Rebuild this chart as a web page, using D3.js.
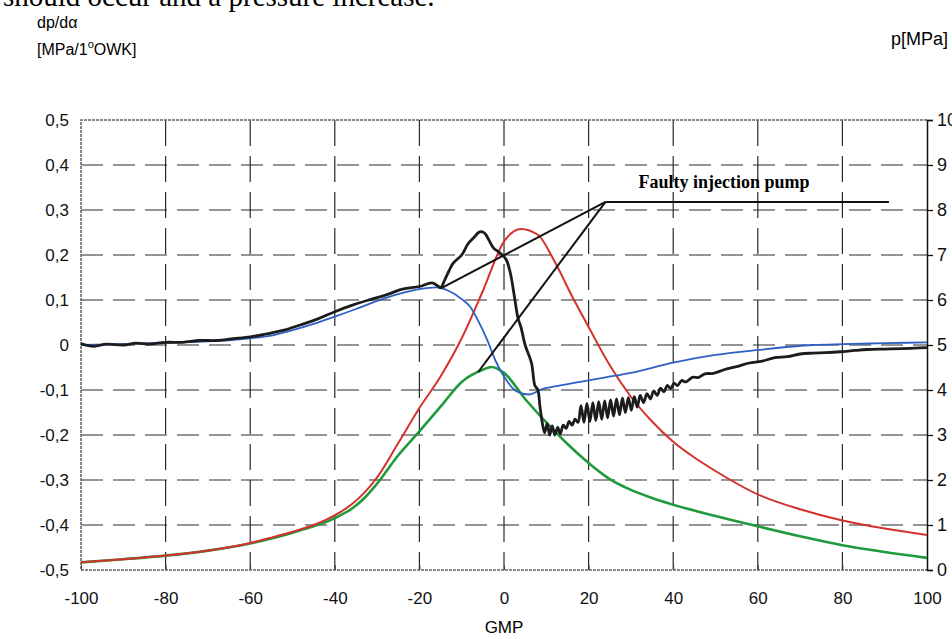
<!DOCTYPE html>
<html>
<head>
<meta charset="utf-8">
<script src="https://cdn.jsdelivr.net/npm/d3@7"></script>
<style>
  body { margin: 0; background: #fff; }
  svg { display: block; }
</style>
</head>
<body>
<svg id="chart"></svg>
<script>
// crank angle ticks and axis tick labels
const xTicks = [-100, -80, -60, -40, -20, 0, 20, 40, 60, 80, 100];
const leftTicks = [-0.5, -0.4, -0.3, -0.2, -0.1, 0, 0.1, 0.2, 0.3, 0.4, 0.5];
const leftTickLabels = ['-0,5', '-0,4', '-0,3', '-0,2', '-0,1', '0', '0,1', '0,2', '0,3', '0,4', '0,5'];
const rightTicks = [0, 1, 2, 3, 4, 5, 6, 7, 8, 9, 10];

// pressure p [MPa], right axis
const redX = [-100, -90, -80, -70, -60, -55, -50, -45, -42, -39, -36, -33, -30, -25, -20, -15, -10, -5, 0, 4, 8, 12, 16, 20, 25, 30, 35, 40, 45, 50, 60, 70, 80, 90, 100];
const redP = [0.17, 0.24, 0.32, 0.43, 0.6, 0.72, 0.85, 1.0, 1.12, 1.27, 1.46, 1.72, 2.06, 2.82, 3.6, 4.3, 5.15, 6.2, 7.3, 7.58, 7.45, 6.85, 6.1, 5.4, 4.55, 3.85, 3.3, 2.85, 2.5, 2.2, 1.68, 1.35, 1.1, 0.92, 0.78];

const greenX = [-100, -90, -80, -70, -60, -55, -50, -45, -42, -39, -36, -33, -30, -25, -20, -15, -10, -5, -3, 0, 5, 10, 15, 20, 25, 30, 35, 40, 50, 60, 70, 80, 90, 100];
const greenP = [0.17, 0.24, 0.32, 0.43, 0.59, 0.7, 0.83, 0.97, 1.07, 1.2, 1.36, 1.6, 1.92, 2.55, 3.08, 3.63, 4.18, 4.45, 4.51, 4.38, 3.8, 3.28, 2.8, 2.38, 2.02, 1.78, 1.6, 1.45, 1.2, 0.97, 0.75, 0.55, 0.4, 0.27];

// dp/dalpha [MPa/1 deg], left axis
const blueX = [-100, -90, -80, -70, -60, -55, -50, -45, -40, -35, -30, -25, -20, -16, -13, -10, -8, -6, -4, -2, 0, 3, 6, 9, 12, 18, 24, 30, 40, 50, 60, 73, 80, 90, 100];
const blueY = [0.0, 0.002, 0.005, 0.008, 0.015, 0.021, 0.033, 0.047, 0.063, 0.08, 0.098, 0.113, 0.124, 0.128, 0.12, 0.102, 0.085, 0.052, 0.012, -0.035, -0.07, -0.103, -0.11, -0.098, -0.092, -0.082, -0.072, -0.062, -0.039, -0.022, -0.011, 0.0, 0.002, 0.004, 0.006];

const blackX = [-100, -97, -94, -90, -87, -84, -80, -76, -72, -68, -64, -60, -56, -52, -48, -44, -40, -36, -32, -28, -24, -20, -17, -15.5, -15, -14, -13, -12, -10, -8.5, -7, -6, -5.3, -4.5, -3.5, -2.5, -1, 0.5, 1.5, 2.5, 3.3, 4, 5, 6.5, 7.3, 8, 8.5, 9, 9.6, 10.2, 10.8, 11.4, 12, 12.7, 13.3, 14, 14.7, 15.4, 16.1, 16.8, 17.5, 18.2, 18.9, 19.6, 20.3, 21, 21.7, 22.4, 23.1, 23.8, 24.5, 25.2, 25.9, 26.6, 27.3, 28, 28.7, 29.4, 30.1, 30.8, 31.5, 32.2, 33, 33.8, 34.6, 35.4, 36.2, 37, 37.8, 38.6, 39.4, 40.2, 41, 42, 43, 44.5, 46, 47.5, 49.5, 52, 55, 58, 61, 64, 67, 70, 73, 76, 79.5, 83, 86, 90, 94, 97, 100];
const blackY = [0.003, -0.003, 0.002, 0.0, 0.004, 0.002, 0.006, 0.006, 0.01, 0.01, 0.014, 0.018, 0.025, 0.033, 0.045, 0.058, 0.074, 0.088, 0.1, 0.111, 0.124, 0.13, 0.138, 0.13, 0.127, 0.145, 0.165, 0.182, 0.2, 0.225, 0.24, 0.25, 0.252, 0.248, 0.232, 0.216, 0.205, 0.19, 0.16, 0.105, 0.06, 0.04, 0.0, -0.04, -0.09, -0.1, -0.137, -0.17, -0.195, -0.175, -0.2, -0.18, -0.2, -0.183, -0.198, -0.178, -0.185, -0.17, -0.178, -0.165, -0.172, -0.135, -0.172, -0.13, -0.17, -0.128, -0.168, -0.126, -0.165, -0.124, -0.162, -0.122, -0.158, -0.12, -0.155, -0.118, -0.15, -0.117, -0.145, -0.115, -0.138, -0.112, -0.128, -0.108, -0.12, -0.102, -0.112, -0.096, -0.104, -0.09, -0.097, -0.085, -0.09, -0.079, -0.082, -0.072, -0.072, -0.064, -0.063, -0.055, -0.048, -0.04, -0.036, -0.028, -0.026, -0.02, -0.018, -0.017, -0.015, -0.012, -0.01, -0.009, -0.008, -0.007, -0.006];

// annotation: text box corner and the two pointer ends
const noteText = 'Faulty injection pump';
const noteCorner = [24, 0.318];
const noteEnd = [91, 0.318];
const notePointers = [[-14.7, 0.127], [-6.1, -0.06]];

class PressureChart {
    constructor (config) {
        this.config = {
            parent: config.parent,
            width: config.width || 952,
            height: config.height || 639,
            margin: config.margin || {top: 120, right: 25, bottom: 69, left: 81},
        };
        this.init();
    }

    init() {
        let self = this;
        const m = self.config.margin;

        self.svg = d3.select(self.config.parent)
            .attr('width', self.config.width)
            .attr('height', self.config.height)
            .style('font-family', '"Liberation Sans", Arial, sans-serif');

        self.inner_width = self.config.width - m.left - m.right;
        self.inner_height = self.config.height - m.top - m.bottom;

        self.chart = self.svg.append('g')
            .attr('transform', `translate(${m.left}, ${m.top})`);

        self.xscale = d3.scaleLinear().domain([-100, 100]).range([0, self.inner_width]);
        self.yleft = d3.scaleLinear().domain([-0.5, 0.5]).range([self.inner_height, 0]);
        self.yright = d3.scaleLinear().domain([0, 10]).range([self.inner_height, 0]);

        // cut-off line of the page text above the figure
        self.svg.append('text')
            .attr('x', 3).attr('y', 6)
            .style('font-family', '"Liberation Serif", "Times New Roman", serif')
            .style('font-size', '29px')
            .text('should occur and a pressure increase.');

        self.svg.append('text')
            .attr('x', 37).attr('y', 28)
            .style('font-size', '16px')
            .text('dp/d\u03b1');

        const unit = self.svg.append('text')
            .attr('x', 37).attr('y', 55)
            .style('font-size', '16px');
        unit.append('tspan').text('[MPa/1');
        unit.append('tspan').attr('dy', -7).style('font-size', '11px').text('o');
        unit.append('tspan').attr('dy', 7).text('OWK]');

        self.svg.append('text')
            .attr('x', 948).attr('y', 45)
            .attr('text-anchor', 'end')
            .style('font-size', '18px')
            .text('p[MPa]');

        self.svg.append('text')
            .attr('x', m.left + self.xscale(0)).attr('y', 633)
            .attr('text-anchor', 'middle')
            .style('font-size', '17px')
            .text('GMP');
    }

    render() {
        let self = this;
        const w = self.inner_width, h = self.inner_height;

        // dashed grid
        self.chart.append('g')
            .selectAll('line')
            .data(leftTicks.slice(1, -1))
            .join('line')
            .attr('x1', 0).attr('x2', w)
            .attr('y1', d => self.yleft(d)).attr('y2', d => self.yleft(d))
            .attr('stroke', '#2a2a2a').attr('stroke-width', 1.2)
            .attr('stroke-dasharray', '22,10');

        self.chart.append('g')
            .selectAll('line')
            .data(xTicks.slice(1, -1))
            .join('line')
            .attr('x1', d => self.xscale(d)).attr('x2', d => self.xscale(d))
            .attr('y1', 0).attr('y2', h)
            .attr('stroke', '#2a2a2a').attr('stroke-width', 1.2)
            .attr('stroke-dasharray', '26,10');

        // frame
        self.chart.append('path')
            .attr('d', `M${w},0 H0 V${h} H${w}`)
            .attr('fill', 'none')
            .attr('stroke', '#666').attr('stroke-width', 1.6)
            .attr('stroke-dasharray', '3,1');

        // axes
        const xaxis = d3.axisBottom(self.xscale).tickValues(xTicks).tickSize(-5).tickPadding(22)
            .tickFormat(d => String(d));
        const yaxis = d3.axisLeft(self.yleft).tickValues(leftTicks).tickSize(0).tickPadding(12)
            .tickFormat((d, i) => leftTickLabels[i]);
        const raxis = d3.axisRight(self.yright).tickValues(rightTicks).tickSize(6).tickPadding(4);

        const xg = self.chart.append('g').attr('transform', `translate(0, ${h})`).call(xaxis);
        xg.select('.domain').remove();
        xg.selectAll('text').style('font-size', '17px').attr('fill', '#111');
        xg.selectAll('line').attr('stroke', '#444');

        const yg = self.chart.append('g').call(yaxis);
        yg.select('.domain').remove();
        yg.selectAll('text').style('font-size', '17px').attr('fill', '#111');

        const rg = self.chart.append('g').attr('transform', `translate(${w}, 0)`).call(raxis);
        rg.select('.domain').attr('stroke', '#111').attr('stroke-width', 1.5);
        rg.selectAll('line').attr('stroke', '#111').attr('stroke-width', 1.3);
        rg.selectAll('text').style('font-size', '18px').attr('fill', '#111');

        const lineLeft = d3.line().x(d => self.xscale(d[0])).y(d => self.yleft(d[1])).curve(d3.curveMonotoneX);
        const lineRight = d3.line().x(d => self.xscale(d[0])).y(d => self.yright(d[1])).curve(d3.curveMonotoneX);
        const lineRough = d3.line().x(d => self.xscale(d[0])).y(d => self.yleft(d[1])).curve(d3.curveCatmullRom);

        const series = [
            {x: greenX, y: greenP, gen: lineRight, color: '#1f9a3c', width: 2.6},
            {x: redX, y: redP, gen: lineRight, color: '#d3312c', width: 2.0},
            {x: blueX, y: blueY, gen: lineLeft, color: '#2f5fc4', width: 1.8},
            {x: blackX, y: blackY, gen: lineRough, color: '#1c1c1c', width: 2.8},
        ];

        self.chart.append('g')
            .selectAll('path')
            .data(series)
            .join('path')
            .attr('d', s => s.gen(s.x.map((v, i) => [v, s.y[i]])))
            .attr('fill', 'none')
            .attr('stroke', s => s.color)
            .attr('stroke-width', s => s.width)
            .attr('stroke-linejoin', 'round');

        // annotation pointers
        const note = self.chart.append('g');
        note.selectAll('line')
            .data(notePointers.concat([noteEnd]))
            .join('line')
            .attr('x1', self.xscale(noteCorner[0])).attr('y1', self.yleft(noteCorner[1]))
            .attr('x2', d => self.xscale(d[0])).attr('y2', d => self.yleft(d[1]))
            .attr('stroke', '#111').attr('stroke-width', 2);

        note.append('text')
            .attr('x', self.xscale(52)).attr('y', self.yleft(noteCorner[1]) - 14)
            .attr('text-anchor', 'middle')
            .style('font-family', '"Liberation Serif", "Times New Roman", serif')
            .style('font-weight', 'bold')
            .style('font-size', '18px')
            .text(noteText);
    }
}

let chart = new PressureChart({parent: '#chart'});
chart.render();
</script>
</body>
</html>
